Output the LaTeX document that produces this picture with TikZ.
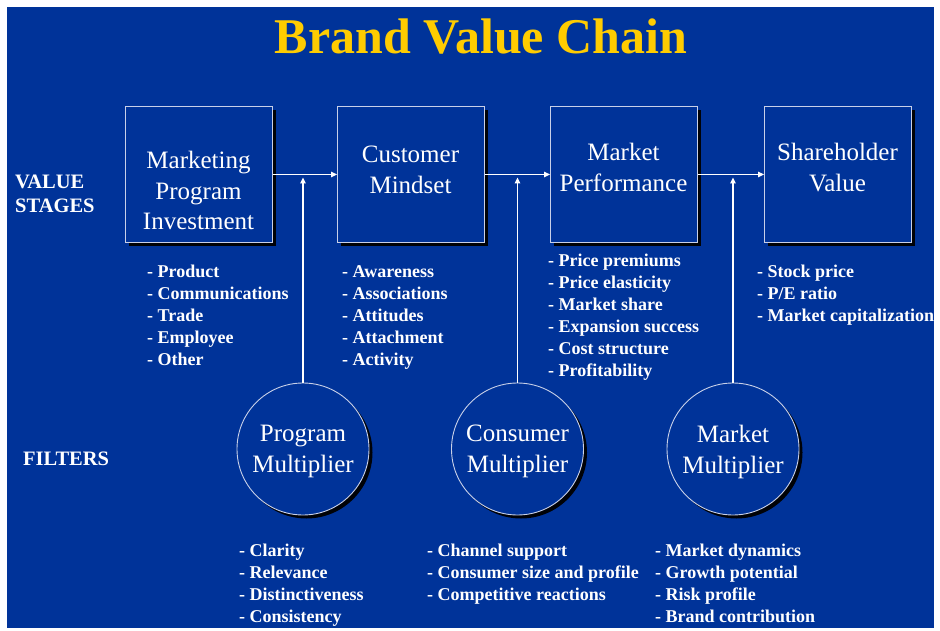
\documentclass[tikz,border=0pt]{standalone}
\usepackage{fontspec}
\setmainfont{Liberation Serif}
\usetikzlibrary{arrows.meta,shadows}
\definecolor{bg}{HTML}{003399}
\definecolor{ttl}{HTML}{FFCC00}
\definecolor{edgec}{HTML}{C8D0E8}
\begin{document}
\begin{tikzpicture}[x=1pt,y=-1pt,
  stagebox/.style={draw=edgec, line width=0.9pt, fill=bg, minimum width=147pt, minimum height=136pt, inner sep=0pt, anchor=north west,
     drop shadow={shadow xshift=3.5pt, shadow yshift=-3.5pt, fill=black, opacity=0.95}},
  filtcirc/.style={circle, draw=edgec, line width=0.9pt, fill=bg, minimum size=132pt, inner sep=0pt,
     drop shadow={shadow xshift=3.5pt, shadow yshift=-3.5pt, fill=black, opacity=0.95}},
  boxtxt/.style={text=white, inner sep=0pt, anchor=base, font=\fontsize{25}{31}\selectfont},
  sidelbl/.style={text=white, inner sep=0pt, anchor=base west, font=\fontsize{20.5}{24}\selectfont\bfseries},
  itemtxt/.style={text=white, inner sep=0pt, anchor=base west, font=\fontsize{18}{22}\selectfont\bfseries},
  conn/.style={draw=white, line width=1.2pt, -{Triangle[length=6pt,width=5.5pt]}}
]
\useasboundingbox (0,0) rectangle (940,631);
\fill[white] (0,0) rectangle (940,631);
\fill[bg] (7,7) rectangle (934,628);

% title
\node[text=ttl, inner sep=0pt, anchor=base, font=\fontsize{50}{56}\selectfont\bfseries] (title) at (481,54) {Brand Value Chain};

% side labels
\node[sidelbl] (lv) at (15,189) {VALUE};
\node[sidelbl] (ls) at (15,213) {STAGES};
\node[sidelbl] (lf) at (23,465) {FILTERS};

% stage boxes
\node[stagebox] (b1) at (125,106) {};
\node[stagebox] (b2) at (337,106) {};
\node[stagebox] (b3) at (550,106) {};
\node[stagebox] (b4) at (764,106) {};

\node[boxtxt] (b1t1) at (198.5,169) {Marketing};
\node[boxtxt] (b1t2) at (198.5,200) {Program};
\node[boxtxt] (b1t3) at (198.5,230) {Investment};
\node[boxtxt] (b2t1) at (410.5,163) {Customer};
\node[boxtxt] (b2t2) at (410.5,194) {Mindset};
\node[boxtxt] (b3t1) at (623.5,161) {Market};
\node[boxtxt] (b3t2) at (623.5,192) {Performance};
\node[boxtxt] (b4t1) at (837.5,161) {Shareholder};
\node[boxtxt] (b4t2) at (837.5,192) {Value};

% filter circles
\node[filtcirc] (c1) at (303,449) {};
\node[filtcirc] (c2) at (517.5,449) {};
\node[filtcirc] (c3) at (733,449) {};
\node[boxtxt] (c1t1) at (303,441) {Program};
\node[boxtxt] (c1t2) at (303,472) {Multiplier};
\node[boxtxt] (c2t1) at (517.5,441) {Consumer};
\node[boxtxt] (c2t2) at (517.5,472) {Multiplier};
\node[boxtxt] (c3t1) at (733,442) {Market};
\node[boxtxt] (c3t2) at (733,473) {Multiplier};

% connectors
\draw[conn] (b1.east) -- (b2.west);
\draw[conn] (b2.east) -- (b3.west);
\draw[conn] (b3.east) -- (b4.west);
\coordinate (t1) at (303,177.5);
\coordinate (t2) at (517.5,177.5);
\coordinate (t3) at (733,177.5);
\draw[conn] (c1.north) -- (t1);
\draw[conn] (c2.north) -- (t2);
\draw[conn] (c3.north) -- (t3);

% lists
\foreach \t [count=\i] in {Product,Communications,Trade,Employee,Other}
  \node[itemtxt] (la-\i) at (147,{277+(\i-1)*22}) {- \t};
\foreach \t [count=\i] in {Awareness,Associations,Attitudes,Attachment,Activity}
  \node[itemtxt] (lb-\i) at (342,{277+(\i-1)*22}) {- \t};
\foreach \t [count=\i] in {Price premiums,Price elasticity,Market share,Expansion success,Cost structure,Profitability}
  \node[itemtxt] (lc-\i) at (548,{266+(\i-1)*22}) {- \t};
\foreach \t [count=\i] in {Stock price,P/E ratio,Market capitalization}
  \node[itemtxt] (ld-\i) at (757,{277+(\i-1)*22}) {- \t};
\foreach \t [count=\i] in {Clarity,Relevance,Distinctiveness,Consistency}
  \node[itemtxt] (le-\i) at (239,{556+(\i-1)*22}) {- \t};
\foreach \t [count=\i] in {Channel support,Consumer size and profile,Competitive reactions}
  \node[itemtxt] (lf-\i) at (427,{556+(\i-1)*22}) {- \t};
\foreach \t [count=\i] in {Market dynamics,Growth potential,Risk profile,Brand contribution}
  \node[itemtxt] (lg-\i) at (655,{556+(\i-1)*22}) {- \t};
\end{tikzpicture}
\end{document}
